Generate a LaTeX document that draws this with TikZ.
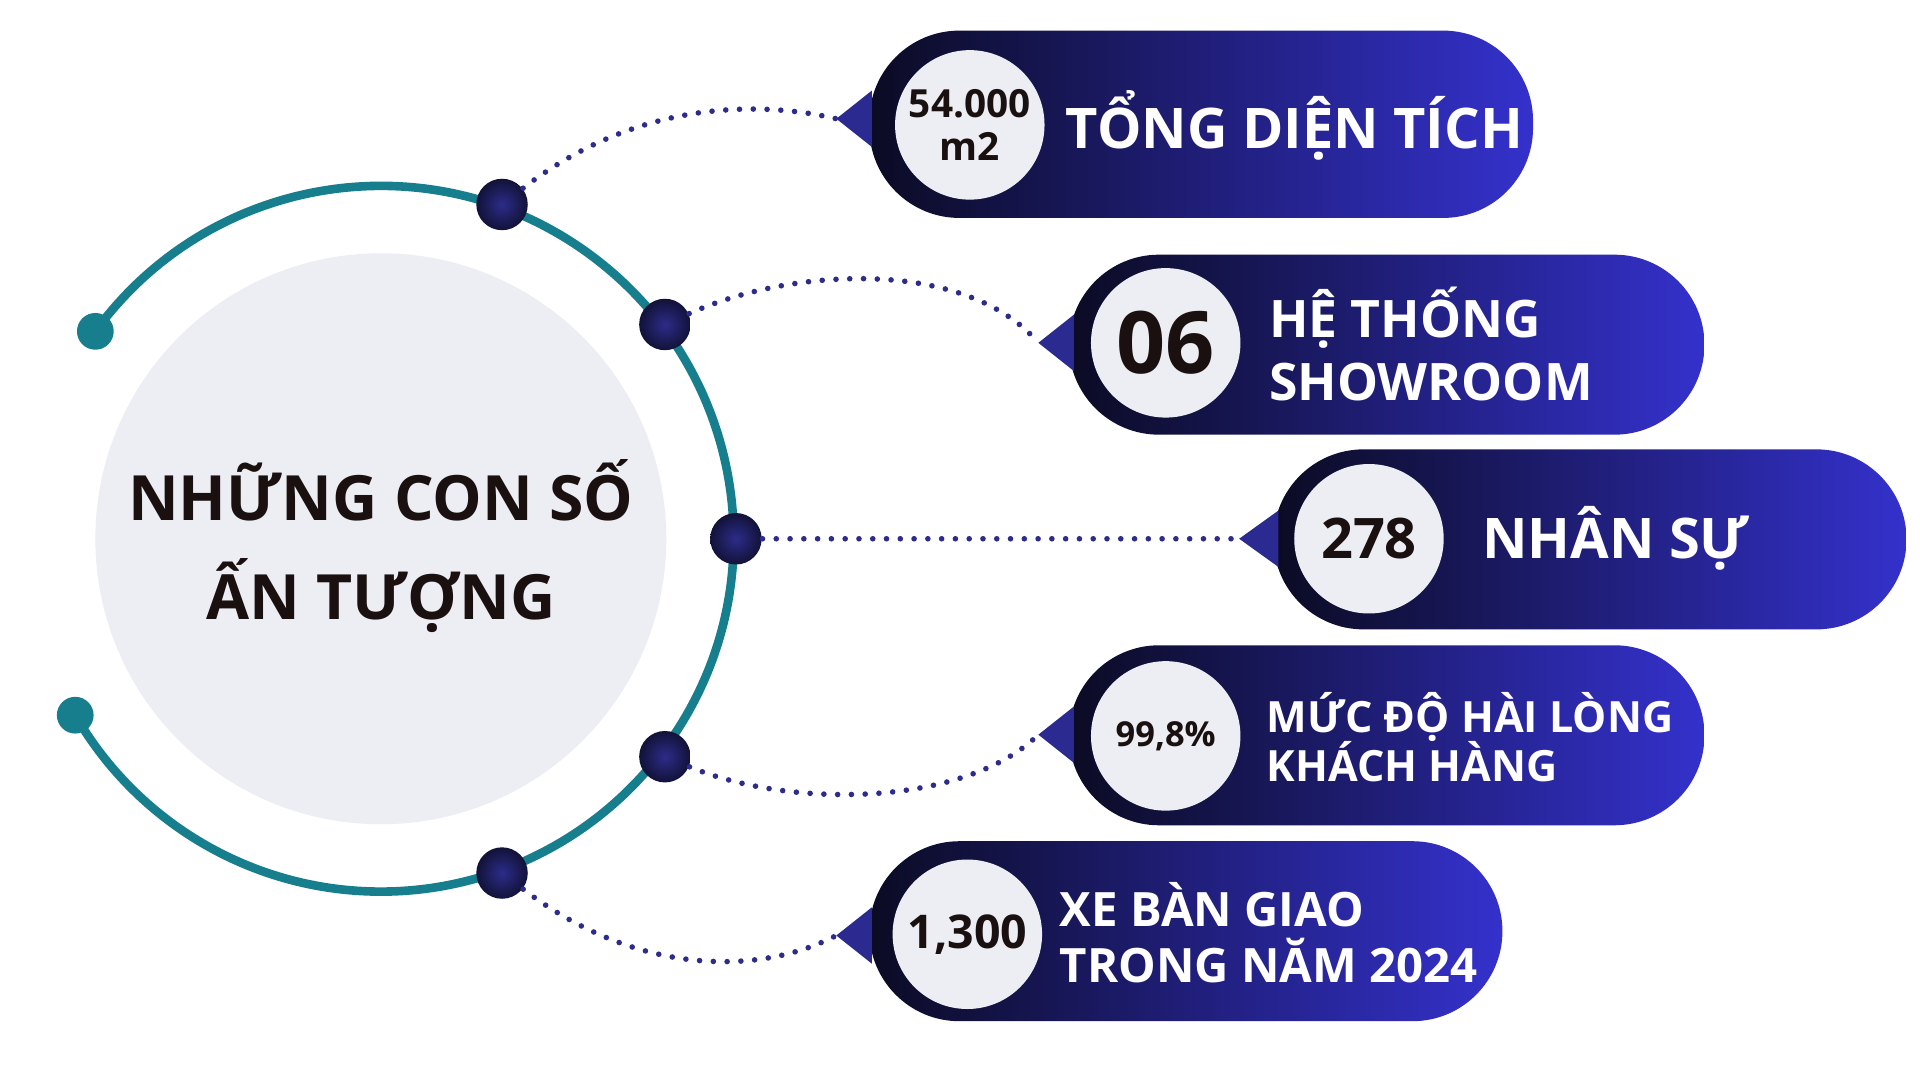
\documentclass[tikz,border=0pt]{standalone}
\usepackage{fontspec}
\usetikzlibrary{calc}
\setmainfont{Open Sans}
\begin{document}
\begin{tikzpicture}[x=0.01cm,y=0.01cm,
  pill/.style={left color=pillL,right color=pillR,rounded corners=0.735cm},
  numc/.style={circle,fill=light,minimum size=1.22cm,inner sep=0pt},
  arcdot/.style={circle,inner color=dotB,outer color=dotA,minimum size=0.42cm,inner sep=0pt},
  tealdot/.style={circle,fill=teal1,minimum size=0.3cm,inner sep=0pt},
  lbl/.style={anchor=west,text=white,font=\bfseries,align=left},
  numt/.style={text=numk,font=\bfseries,align=center},
  dots/.style={line width=1.3pt,dash pattern=on 0pt off 3.2pt,line cap=round,draw=dotB},
  tri/.style={fill=triC}]
\definecolor{pillL}{HTML}{0B0B24}
\definecolor{pillR}{HTML}{3431CC}
\definecolor{light}{HTML}{ECEEF3}
\definecolor{dotA}{HTML}{121238}
\definecolor{dotB}{HTML}{2C2C8A}
\definecolor{teal1}{HTML}{177E8E}
\definecolor{numk}{HTML}{1A1010}
\definecolor{triC}{HTML}{2A2A90}
\useasboundingbox (0,0) rectangle (1568,882);
\fill[white] (0,0) rectangle (1568,882);
% central circle
\node[circle,fill=light,minimum size=4.66cm,inner sep=0pt] (core) at (311,442) {};
\node[numt,font=\bfseries\fontsize{14.5}{21}\selectfont] (title) at (311,436) {NHỮNG CON SỐ\\[2pt]ẤN TƯỢNG};
% teal arc
\draw[teal1,line width=2pt] (311,442) ++(144:2.88cm) arc[start angle=144,end angle=-150,radius=2.88cm];
\node[tealdot] (t1) at ($(311,442)+(144:2.88cm)$) {};
\node[tealdot] (t2) at ($(311,442)+(-150:2.88cm)$) {};
% arc dots
\node[arcdot] (d1) at (410,715) {};
\node[arcdot] (d2) at (543,617) {};
\node[arcdot] (d3) at (601,442) {};
\node[arcdot] (d4) at (543,264) {};
\node[arcdot] (d5) at (410,169) {};
% pills
\shade[pill] (710,704) rectangle (1252,857);
\shade[pill] (873,527) rectangle (1392,674);
\shade[pill] (1040,368) rectangle (1557,515);
\shade[pill] (873,208) rectangle (1392,355);
\shade[pill] (710,48) rectangle (1227,195);
% triangles
\coordinate (p1) at (683,785); \fill[tri] (p1) -- (712,808) -- (712,762) -- cycle;
\coordinate (p2) at (848,602); \fill[tri] (p2) -- (877,625) -- (877,579) -- cycle;
\coordinate (p3) at (1012,442); \fill[tri] (p3) -- (1044,465) -- (1044,419) -- cycle;
\coordinate (p4) at (848,282); \fill[tri] (p4) -- (877,305) -- (877,259) -- cycle;
\coordinate (p5) at (683,118); \fill[tri] (p5) -- (712,141) -- (712,95) -- cycle;
% number circles
\node[numc] (c1) at (792,780) {};
\node[numc] (c2) at (952,602) {};
\node[numc] (c3) at (1118,442) {};
\node[numc] (c4) at (952,281) {};
\node[numc] (c5) at (790,119) {};
% connectors
\draw[dots] (d1) .. controls (520,800) and (620,800) .. (p1);
\draw[dots] (d2) .. controls (650,665) and (790,670) .. (p2);
\draw[dots] (d3) -- (p3);
\draw[dots] (d4) .. controls (650,220) and (790,225) .. (p4);
\draw[dots] (d5) .. controls (520,85) and (620,85) .. (p5);
% numbers
\node[numt,font=\bfseries\fontsize{9}{10}\selectfont] at (c1) {54.000\\m2};
\node[numt,font=\bfseries\fontsize{20}{22}\selectfont] at (c2) {06};
\node[numt,font=\bfseries\fontsize{13}{15}\selectfont] at (c3) {278};
\node[numt,font=\bfseries\fontsize{8}{10}\selectfont] at (c4) {99,8\%};
\node[numt,font=\bfseries\fontsize{10.8}{12}\selectfont] at (c5) {1,300};
% labels
\node[lbl,font=\bfseries\fontsize{13}{15}\selectfont] at (858,780) {TỔNG DIỆN TÍCH};
\node[lbl,font=\bfseries\fontsize{12}{14.5}\selectfont] at (1024,601) {HỆ THỐNG\\SHOWROOM};
\node[lbl,font=\bfseries\fontsize{13}{15}\selectfont] at (1198,442) {NHÂN SỰ};
\node[lbl,font=\bfseries\fontsize{10}{11.5}\selectfont] at (1022,280) {MỨC ĐỘ HÀI LÒNG\\KHÁCH HÀNG};
\node[lbl,font=\bfseries\fontsize{11}{13}\selectfont] at (853,120) {XE BÀN GIAO\\TRONG NĂM 2024};
\end{tikzpicture}
\end{document}
